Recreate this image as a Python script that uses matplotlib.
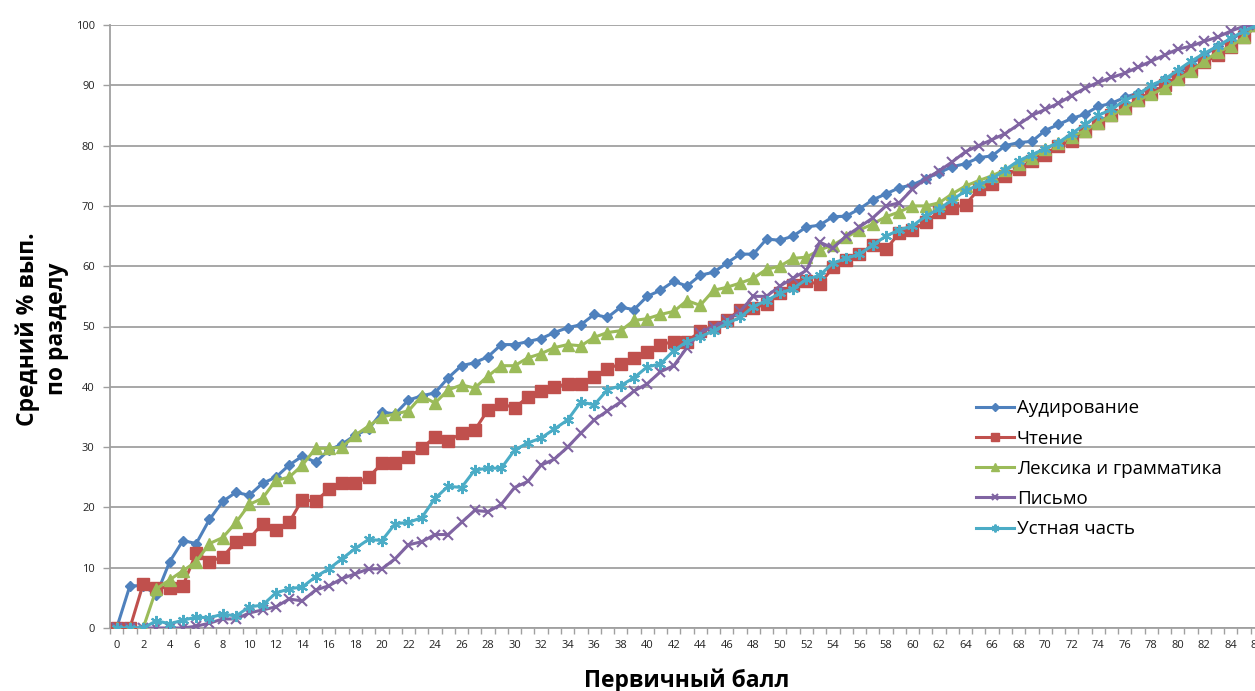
import matplotlib
matplotlib.use("Agg")
import matplotlib.pyplot as plt
import numpy as np

plt.rcParams['font.family'] = ['Open Sans', 'DejaVu Sans']

scores = list(range(0, 87))

audirovanie = [0, 7, 7, 5.5, 11, 14.5, 14, 18, 21, 22.5, 22, 24, 25, 27, 28.5, 27.5, 29.5, 30.5, 32, 33,
               35.8, 35.5, 37.8, 38.5, 39, 41.5, 43.5, 44, 45, 47, 47, 47.5, 48, 49, 49.8, 50.3, 52, 51.5, 53.2, 52.8,
               55, 56, 57.5, 56.7, 58.5, 59, 60.5, 62, 62, 64.5, 64.3, 65, 66.5, 66.8, 68.2, 68.3, 69.5, 71, 72, 73,
               73.5, 74.5, 75.5, 76.5, 77, 78, 78.3, 80, 80.5, 80.7, 82.5, 83.5, 84.5, 85.2, 86.5, 87, 88, 88.7, 89.5, 91,
               92, 93.5, 95, 96.5, 97.5, 99, 100]

chtenie = [0, 0, 7.3, 6.7, 6.7, 7, 12.5, 11, 11.8, 14.3, 14.8, 17.3, 16.3, 17.5, 21.3, 21, 23, 24, 24, 25,
           27.3, 27.3, 28.3, 29.8, 31.7, 31, 32.3, 32.8, 36.2, 37.2, 36.5, 38.3, 39.3, 40, 40.5, 40.5, 41.7, 43, 43.8, 44.8,
           45.8, 47, 47.5, 47.5, 49.2, 50, 51, 52.8, 53, 53.8, 55.5, 56.8, 57.5, 57, 59.8, 61, 62, 63.5, 62.8, 65.5,
           66, 67.3, 69, 69.7, 70.2, 72.8, 73.7, 75, 76.2, 77.5, 78.5, 80, 80.8, 82.5, 83.7, 85, 86.2, 87.5, 88.7, 90,
           91.3, 92.5, 93.8, 95, 96.3, 98, 100]

leksika = [0, 0, 0, 6.5, 8, 9.5, 11, 14, 15, 17.5, 20.5, 21.5, 24.5, 25, 27, 29.8, 29.8, 30, 32, 33.5,
           35, 35.5, 36, 38.5, 37.3, 39.5, 40.3, 39.8, 41.8, 43.5, 43.5, 44.8, 45.5, 46.5, 47, 46.8, 48.2, 49, 49.3, 51,
           51.3, 52, 52.5, 54.3, 53.5, 56, 56.5, 57.2, 58, 59.5, 60, 61.3, 61.5, 62.7, 63.5, 64.8, 66, 67, 68.2, 69,
           70, 70, 70.5, 72, 73.3, 74.2, 75, 76, 77, 78, 79.5, 80.5, 81.5, 82.5, 83.8, 85, 86.2, 87.5, 88.5, 89.5,
           91, 92.3, 94, 95.5, 96.5, 98, 100]

pismo = [0, 0, 0, 0, 0, 0, 0.3, 0.8, 1.5, 1.5, 2.5, 3, 3.5, 4.8, 4.5, 6.3, 7, 8.2, 9, 9.8,
         9.8, 11.5, 13.8, 14.3, 15.5, 15.5, 17.5, 19.5, 19.3, 20.5, 23.3, 24.3, 27, 28, 30, 32.3, 34.5, 36, 37.5, 39.3,
         40.5, 42.5, 43.5, 46.5, 49, 50, 51, 52.5, 55, 55, 56.7, 58, 59.3, 64, 63, 65, 66.5, 68, 70, 70.5,
         72.8, 74.5, 75.8, 77.3, 79, 80, 81, 82, 83.5, 85, 86, 87, 88.3, 89.5, 90.5, 91.3, 92, 93, 94, 95,
         96, 96.5, 97.3, 98, 99, 99.8, 100]

ustnaya = [0, 0, 0, 1.2, 0.7, 1.3, 1.8, 1.7, 2.3, 2, 3.5, 3.8, 5.8, 6.5, 6.8, 8.5, 9.8, 11.5, 13.2, 14.7,
           14.5, 17.3, 17.5, 18.3, 21.5, 23.5, 23.3, 26.2, 26.5, 26.5, 29.5, 30.7, 31.5, 33, 34.5, 37.5, 37, 39.5, 40.2, 41.5,
           43.3, 43.8, 46, 47.5, 48.3, 49.3, 50.5, 51.5, 53.3, 54.3, 55.5, 56.3, 57.8, 58.5, 60.5, 61.3, 62, 63.5, 65, 66,
           66.7, 68.3, 69.5, 71, 72.5, 73.5, 74.5, 76, 77.5, 78.5, 79.5, 80.5, 82, 83.5, 85, 86, 87.5, 88.5, 90, 91,
           92.5, 94, 95.3, 96.5, 97.8, 99, 100]

series_names = ['Аудирование', 'Чтение', 'Лексика и грамматика', 'Письмо', 'Устная часть']
colors = ['#4F81BD', '#C0504D', '#9BBB59', '#8064A2', '#4BACC6']
markers = ['D', 's', '^', 'x', (6, 2, 0)]
msizes = [5.5, 8, 8, 7, 8]
y_ticks = [0, 10, 20, 30, 40, 50, 60, 70, 80, 90, 100]

W, H = 1255, 691
fig = plt.figure(figsize=(W / 100, H / 100), dpi=100)
ax = fig.add_axes([110 / W, 63 / H, 1154 / W, 603 / H])

data = [audirovanie, chtenie, leksika, pismo, ustnaya]
for vals, name, c, m, ms in zip(data, series_names, colors, markers, msizes):
    ax.plot(scores, vals, color=c, marker=m, markersize=ms, linewidth=2.2,
            markeredgewidth=1.5 if m in ('x',) or isinstance(m, tuple) else 1.0,
            markeredgecolor=c, markerfacecolor=c, label=name, zorder=3)

ax.set_xlim(-0.5, 86.5)
ax.set_ylim(0, 100)
ax.set_yticks(y_ticks)
ax.set_xticks(scores[::2])
ax.set_xticks(np.arange(-0.5, 87, 1), minor=True)
ax.tick_params(axis='x', which='major', length=0, labelsize=8, pad=9, colors='#222222')
ax.tick_params(axis='x', which='minor', length=4, color='#a0a0a0', width=1)
ax.tick_params(axis='y', which='major', length=5, width=1, labelsize=8, pad=6, colors='#222222')
ax.tick_params(axis='y', which='major', color='#a0a0a0')
ax.grid(axis='y', color='#a0a0a0', linewidth=1.3, zorder=0)
ax.set_axisbelow(True)
for s in ['top', 'right']:
    ax.spines[s].set_visible(False)
for s in ['left', 'bottom']:
    ax.spines[s].set_color('#a0a0a0')
    ax.spines[s].set_linewidth(1.3)

fig.text(687 / W, 1 - 681 / H, 'Первичный балл', ha='center', va='center',
         fontsize=16.5, fontweight='bold')
fig.text(42 / W, 1 - 329 / H, 'Средний % вып.\nпо разделу', ha='center', va='center',
         rotation=90, fontsize=16.5, fontweight='bold', linespacing=1.3)

leg = fig.legend(loc='upper left', bbox_to_anchor=(967 / W, 1 - 390 / H), frameon=False,
                 fontsize=13.5, handlelength=2.0, handletextpad=0.15, labelspacing=0.65,
                 borderpad=0, markerscale=0.7)

fig.savefig('out.png', dpi=100)
